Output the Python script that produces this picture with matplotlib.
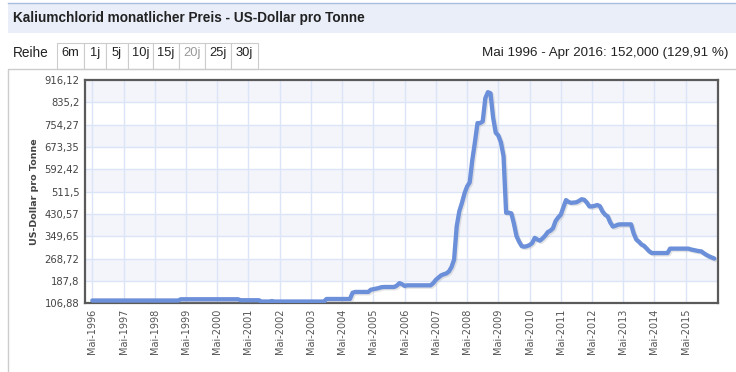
import matplotlib.pyplot as plt
import matplotlib.patheffects as pe
from matplotlib.patches import Rectangle

# Monatspreise Kaliumchlorid, Mai 1996 - Apr 2016 (je Zeile Mai..Apr)
preise_jahre = [
    [117, 117, 117, 117, 117, 117, 117, 117, 117, 117, 117, 117],
    [117, 117, 117, 117, 117, 117, 117, 117, 117, 117, 117, 117],
    [117, 117, 117, 117, 117, 117, 117, 117, 117, 117, 121.5, 121.5],
    [121.5, 121.5, 121.5, 121.5, 121.5, 121.5, 121.5, 121.5, 121.5, 121.5, 121.5, 121.5],
    [121.5, 121.5, 121.5, 121.5, 121.5, 121.5, 121.5, 121.5, 121.5, 118, 118, 118],
    [118, 118, 118, 118, 118, 113.3, 113.3, 113.3, 113.3, 115, 113.3, 113.3],
    [113.3, 113.3, 113.3, 113.3, 113.3, 113.3, 113.3, 113.3, 113.3, 113.3, 113.3, 113.3],
    [113.3, 113.3, 113.3, 113.3, 113.3, 113.3, 122.5, 122.5, 122.5, 122.5, 122.5, 122.5],
    [122.5, 122.5, 122.5, 122.5, 145, 148, 148, 148, 148, 148, 148, 156],
    [158, 160, 162, 165, 166, 166, 166, 166, 166, 171, 180, 176],
    [170, 172, 172, 172, 172, 172, 172, 172, 172, 172, 172, 180],
    [192, 200, 208, 212, 215, 222, 238, 265, 385, 440, 470, 505],
    [530, 545, 626, 690, 760, 760, 766, 850, 872, 868, 780, 725],
    [715, 690, 640, 435, 435, 433, 395, 350, 330, 314, 312, 314],
    [318, 325, 344, 338, 334, 342, 352, 365, 370, 379, 405, 418],
    [428, 455, 481, 474, 471, 472, 473, 478, 484, 482, 472, 458],
    [458, 460, 463, 459, 440, 428, 422, 400, 385, 388, 392, 393],
    [393, 393, 393, 393, 360, 338, 330, 320, 315, 305, 295, 289],
    [289, 289, 289, 289, 289, 289, 305, 305, 305, 305, 305, 305],
    [305, 305, 302, 300, 298, 296, 295, 288, 282, 277, 273, 269],
]
preise = [p for jahr in preise_jahre for p in jahr]
monate = list(range(len(preise)))

jahre = list(range(1996, 2016))
x_labels = [f'Mai-{j}' for j in jahre]
x_ticks = [12 * i for i in range(len(jahre))]

y_ticks = [106.88, 187.8, 268.72, 349.65, 430.57, 511.5, 592.42, 673.35, 754.27, 835.2, 916.12]
y_labels = ['106,88', '187,8', '268,72', '349,65', '430,57', '511,5',
            '592,42', '673,35', '754,27', '835,2', '916,12']

buttons = ['6m', '1j', '5j', '10j', '15j', '20j', '25j', '30j']

narrow = ['Liberation Sans Narrow', 'Liberation Sans']

W, H = 736, 372
fig = plt.figure(figsize=(W / 100, H / 100), dpi=100)

# Hintergrund: Kopfzeile, Panel, Buttons (in Pixelkoordinaten)
bg = fig.add_axes([0, 0, 1, 1])
bg.set_xlim(0, W)
bg.set_ylim(H, 0)
bg.axis('off')
bg.add_patch(Rectangle((8, 3), W - 8, 30, facecolor='#e9eef9', edgecolor='none'))
bg.plot([8, W], [3, 3], color='#a9bde0', lw=1)
bg.text(13, 18, 'Kaliumchlorid monatlicher Preis - US-Dollar pro Tonne',
        fontsize=9.8, fontweight='bold', color='#222222', va='center', family=narrow)
bg.plot([8, 8, W], [H, 69, 69], color='#cccccc', lw=1)
bg.text(13, 53, 'Reihe', fontsize=9.8, color='#222222', va='center', family=narrow)
bx = [57, 84, 106, 128, 153, 179, 205, 231, 258]
for i, b in enumerate(buttons):
    bg.add_patch(Rectangle((bx[i], 43), bx[i + 1] - bx[i], 26, facecolor='white',
                           edgecolor='#cccccc', lw=0.8))
    bg.text((bx[i] + bx[i + 1]) / 2, 53, b, fontsize=9.3, ha='center', va='center',
            color='#999999' if b == '20j' else '#222222', family=narrow)
bg.text(728, 53, 'Mai 1996 - Apr 2016: 152,000 (129,91 %)', fontsize=9.6,
        ha='right', va='center', color='#222222', family=narrow)

# Diagramm
ax = fig.add_axes([85 / W, (H - 303.3) / H, (718 - 85) / W, (303.3 - 80) / H])
for i in range(len(y_ticks) - 1):
    if i % 2 == 1:
        ax.axhspan(y_ticks[i], y_ticks[i + 1], color='#f3f5fb', lw=0, zorder=0)
for t in y_ticks[1:-1]:
    ax.axhline(t, color='#dbe5f7', lw=1, zorder=1)
for t in x_ticks:
    ax.axvline(t, color='#dbe5f7', lw=1, zorder=1)

ax.plot(monate, preise, color='#6b8fd9', lw=3.1, solid_joinstyle='round',
        solid_capstyle='round', zorder=3,
        path_effects=[pe.SimpleLineShadow(offset=(1, -1), shadow_color='#999999', alpha=0.25),
                      pe.Normal()])

ax.set_xlim(-2.8, 240.4)
ax.set_ylim(y_ticks[0], y_ticks[-1])
ax.set_yticks(y_ticks)
ax.set_yticklabels(y_labels, fontsize=7.2, color='#444444')
ax.set_xticks(x_ticks)
ax.set_xticklabels(x_labels, rotation=90, fontsize=7, color='#555555')
ax.tick_params(length=0, pad=4)
ax.set_ylabel('US-Dollar pro Tonne', fontsize=6.8, fontweight='bold', color='#444444', labelpad=4)
for s in ax.spines.values():
    s.set_color('#5a5a5a')
    s.set_linewidth(1.6)
ax.set_facecolor('white')

fig.savefig('out.png', dpi=100)
